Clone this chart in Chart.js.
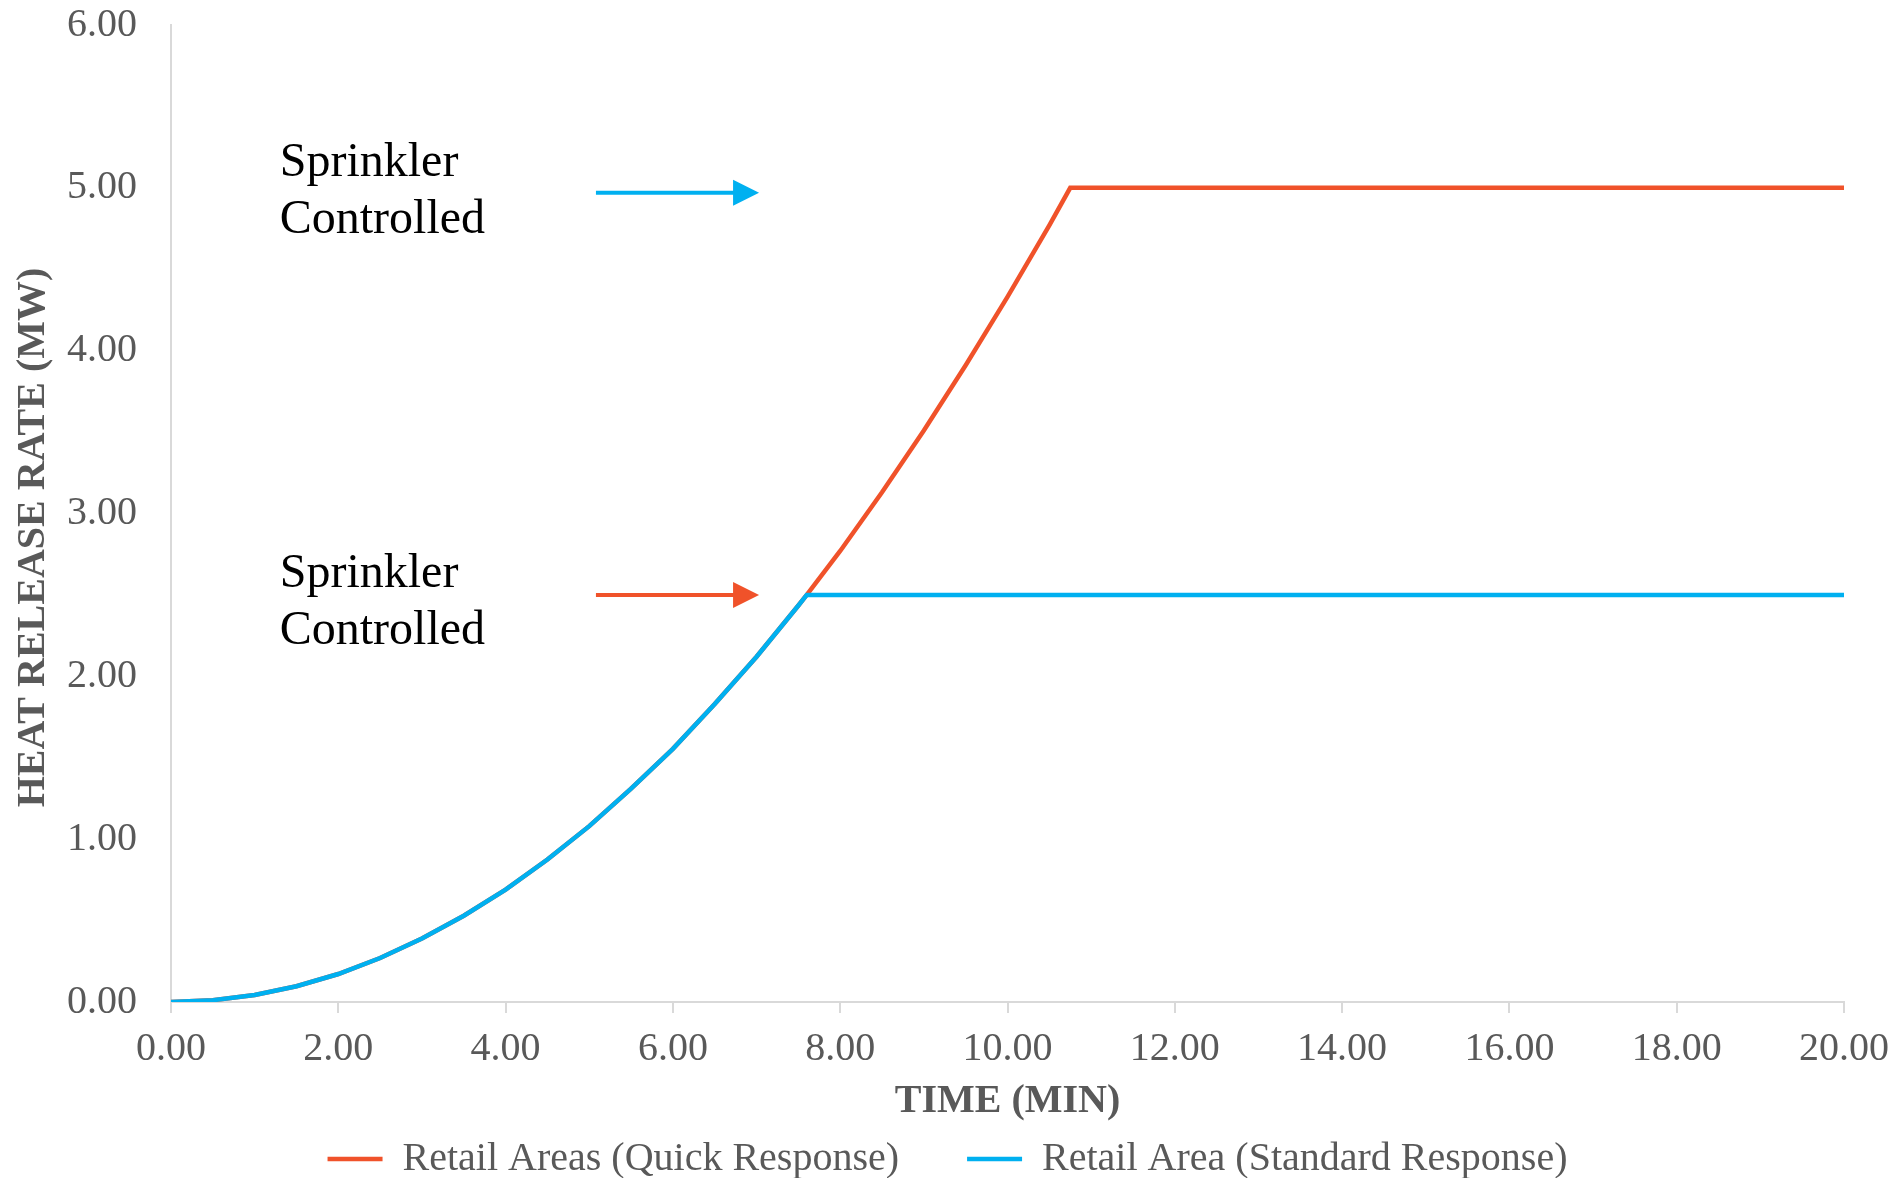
<!DOCTYPE html>
<html>
<head>
<meta charset="utf-8">
<script src="https://cdn.jsdelivr.net/npm/chart.js@4.4.1/dist/chart.umd.min.js"></script>
<style>
  html, body { margin: 0; padding: 0; background: #fff; }
  #wrap { width: 1895px; height: 1178px; position: relative; }
</style>
</head>
<body>
<div id="wrap"><canvas id="hrr"></canvas></div>
<script>
// fire growth curves (time in min, HRR in MW)
var timeQuick = [0, 0.5, 1, 1.5, 2, 2.5, 3, 3.5, 4, 4.5, 5, 5.5, 6, 6.5, 7, 7.5, 7.6, 8, 8.5, 9, 9.5, 10, 10.5, 10.75, 20];
var hrrQuick = [0, 0.011, 0.043, 0.097, 0.172, 0.27, 0.39, 0.53, 0.69, 0.875, 1.08, 1.31, 1.555, 1.83, 2.12, 2.435, 2.5, 2.77, 3.13, 3.51, 3.91, 4.33, 4.77, 5.0, 5.0];
var timeStandard = [0, 0.5, 1, 1.5, 2, 2.5, 3, 3.5, 4, 4.5, 5, 5.5, 6, 6.5, 7, 7.5, 7.6, 20];
var hrrStandard = [0, 0.011, 0.043, 0.097, 0.172, 0.27, 0.39, 0.53, 0.69, 0.875, 1.08, 1.31, 1.555, 1.83, 2.12, 2.435, 2.5, 2.5];

var seriesLabels = ["Retail Areas (Quick Response)", "Retail Area (Standard Response)"];
var orange = "#F0522A";
var blue = "#00B0F0";

// "Sprinkler Controlled" notes, in data units
var noteText = ["Sprinkler", "Controlled"];
var noteX = 1.3;
var noteBaselines = [[5.07, 4.72], [2.55, 2.2]];
var arrowStart = 5.08;
var arrowEnd = 7.03;
var arrowLevels = [4.97, 2.5];
var arrowColors = [blue, orange];

function toPoints(xs, ys) {
  return xs.map(function (v, i) { return { x: v, y: ys[i] }; });
}

var serif = "'Liberation Serif', 'Times New Roman', serif";
var grey = "#595959";
var axisGrey = "#d9d9d9";

var notesPlugin = {
  id: "notes",
  afterLayout: function (chart) {
    // the y title sits a little below the middle of the axis in the original
    var y = chart.scales.y;
    if (!y._titleShifted) {
      var orig = y.drawTitle;
      y.drawTitle = function () {
        this.ctx.save();
        this.ctx.translate(0, 24);
        orig.apply(this, arguments);
        this.ctx.restore();
      };
      y._titleShifted = true;
    }
  },
  afterDatasetsDraw: function (chart) {
    var ctx = chart.ctx;
    var x = chart.scales.x;
    var y = chart.scales.y;
    ctx.save();
    ctx.font = "48px " + serif;
    ctx.fillStyle = "#000";
    ctx.textAlign = "left";
    ctx.textBaseline = "alphabetic";
    noteBaselines.forEach(function (lines) {
      lines.forEach(function (lv, i) {
        ctx.fillText(noteText[i], x.getPixelForValue(noteX), y.getPixelForValue(lv));
      });
    });
    arrowLevels.forEach(function (lv, i) {
      var x0 = x.getPixelForValue(arrowStart);
      var x1 = x.getPixelForValue(arrowEnd);
      var yy = y.getPixelForValue(lv);
      ctx.strokeStyle = arrowColors[i];
      ctx.fillStyle = arrowColors[i];
      ctx.lineWidth = 4;
      ctx.beginPath();
      ctx.moveTo(x0, yy);
      ctx.lineTo(x1 - 24, yy);
      ctx.stroke();
      ctx.beginPath();
      ctx.moveTo(x1, yy);
      ctx.lineTo(x1 - 26, yy - 13);
      ctx.lineTo(x1 - 26, yy + 13);
      ctx.closePath();
      ctx.fill();
    });
    ctx.restore();
  }
};

var ctx = document.getElementById("hrr").getContext("2d");
var myChart = new Chart(ctx, {
  type: "line",
  data: {
    datasets: [
      {
        label: seriesLabels[0],
        data: toPoints(timeQuick, hrrQuick),
        borderColor: orange,
        backgroundColor: orange,
        borderWidth: 4.5,
        pointRadius: 0,
        fill: false,
        tension: 0,
        order: 1,
      },
      {
        label: seriesLabels[1],
        data: toPoints(timeStandard, hrrStandard),
        borderColor: blue,
        backgroundColor: blue,
        borderWidth: 4.5,
        pointRadius: 0,
        fill: false,
        tension: 0,
        order: 0,
      },
    ],
  },
  options: {
    responsive: true,
    maintainAspectRatio: false,
    animation: false,
    layout: { padding: { left: 0, right: 0, top: 25, bottom: -11 } },
    plugins: {
      tooltip: { enabled: false },
      legend: {
        position: "bottom",
        labels: {
          usePointStyle: true,
          pointStyle: "line",
          pointStyleWidth: 55,
          padding: 68,
          color: grey,
          font: { family: serif, size: 40 },
          sort: function (a, b) { return a.datasetIndex - b.datasetIndex; },
        },
      },
    },
    scales: {
      x: {
        type: "linear",
        min: 0,
        max: 20,
        afterFit: function (scale) {
          scale.height = 69;
          scale.paddingLeft = 0;
          scale.paddingRight = 51;
        },
        ticks: {
          stepSize: 2,
          padding: 12,
          color: grey,
          font: { family: serif, size: 40 },
          maxRotation: 0,
          callback: function (v) { return v.toFixed(2); },
        },
        grid: { drawOnChartArea: false, drawTicks: true, tickLength: 11, color: axisGrey, lineWidth: 2 },
        border: { color: axisGrey, width: 2 },
        title: {
          display: true,
          text: "TIME (MIN)",
          color: grey,
          font: { family: serif, size: 40, weight: "bold" },
          padding: { top: 0, bottom: -55 },
        },
      },
      y: {
        min: 0,
        max: 6,
        afterFit: function (scale) {
          scale.width = 171;
          scale.paddingTop = 0;
          scale.paddingBottom = 0;
        },
        ticks: {
          stepSize: 1,
          padding: 34,
          color: grey,
          font: { family: serif, size: 40 },
          callback: function (v) { return v.toFixed(2); },
        },
        grid: { drawOnChartArea: false, drawTicks: false, color: axisGrey },
        border: { color: axisGrey, width: 2 },
        title: {
          display: true,
          text: "HEAT RELEASE RATE (MW)",
          color: grey,
          font: { family: serif, size: 40, weight: "bold" },
          padding: { top: 10, bottom: 0 },
        },
      },
    },
  },
  plugins: [notesPlugin],
});
</script>
</body>
</html>
